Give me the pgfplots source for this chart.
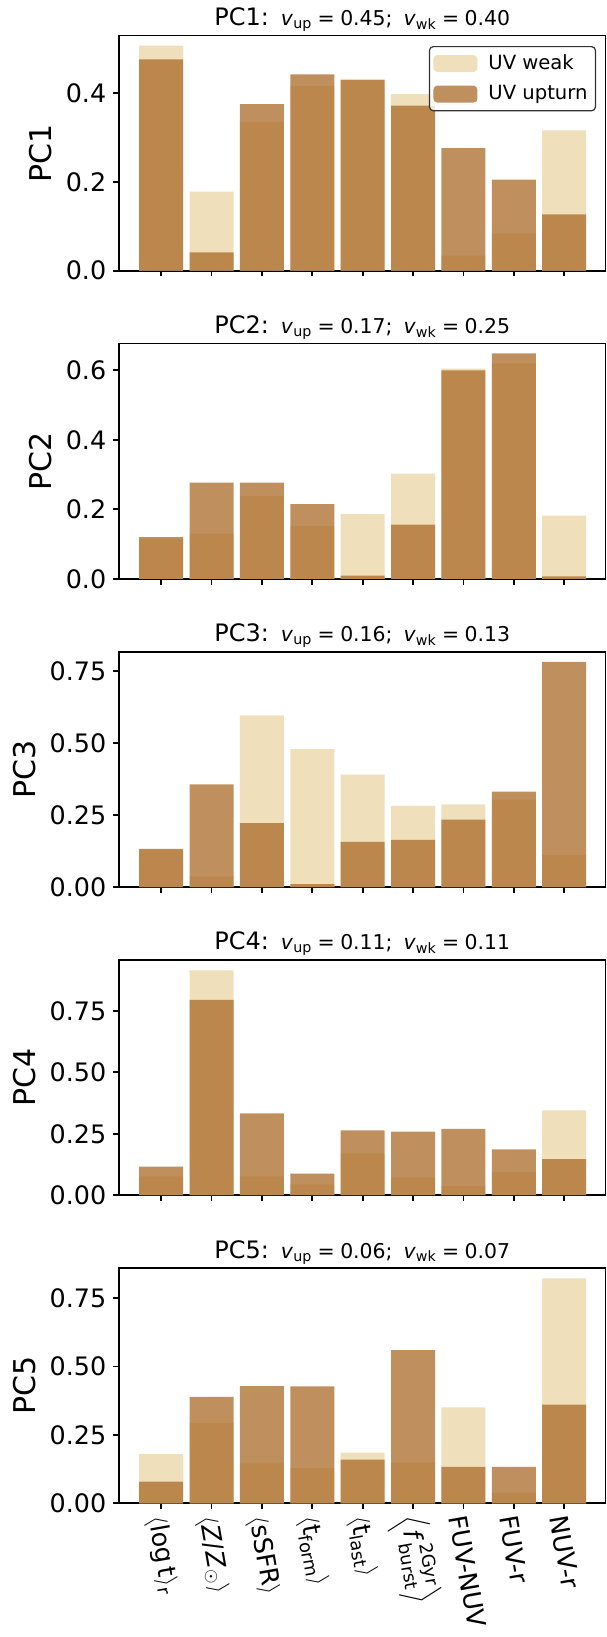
\documentclass[border=0pt]{standalone}
\usepackage{fontspec}
\setmainfont{DejaVu Sans}
\usepackage{amsmath}
\usepackage{pgfplots}
\usepackage{pgfplotstable}
\pgfplotsset{compat=1.18}
\definecolor{weakc}{HTML}{EFDFBB}
\definecolor{upc}{HTML}{AB6A28}

\pgfplotstableread{
x wk up
0 0.507 0.476
1 0.178 0.041
2 0.335 0.375
3 0.416 0.442
4 0.432 0.429
5 0.398 0.372
6 0.034 0.276
7 0.084 0.205
8 0.316 0.127
}\pcone
\pgfplotstableread{
x wk up
0 0.115 0.120
1 0.130 0.277
2 0.238 0.277
3 0.152 0.215
4 0.187 0.009
5 0.303 0.156
6 0.605 0.600
7 0.620 0.649
8 0.182 0.007
}\pctwo
\pgfplotstableread{
x wk up
0 0.130 0.132
1 0.037 0.356
2 0.596 0.222
3 0.479 0.010
4 0.390 0.157
5 0.282 0.164
6 0.287 0.234
7 0.303 0.331
8 0.112 0.782
}\pcthree
\pgfplotstableread{
x wk up
0 0.077 0.116
1 0.915 0.795
2 0.077 0.333
3 0.044 0.088
4 0.170 0.264
5 0.071 0.259
6 0.037 0.270
7 0.095 0.186
8 0.345 0.147
}\pcfour
\pgfplotstableread{
x wk up
0 0.180 0.079
1 0.294 0.389
2 0.146 0.428
3 0.129 0.427
4 0.185 0.160
5 0.150 0.560
6 0.351 0.133
7 0.038 0.133
8 0.822 0.361
}\pcfive

\newcommand\ttl[3]{{\fontsize{12}{14}\selectfont PC#1:}\hspace{6pt}{\fontsize{10.2}{12}\selectfont\textit{v}\textsubscript{up}\hspace{2.6pt}=\hspace{2.8pt}#2;\hspace{5.5pt}\textit{v}\textsubscript{wk}\hspace{2.6pt}=\hspace{2.8pt}#3}}

\pgfplotsset{pcax/.style={
  scale only axis, width=243.25pt, height=117.65pt,
  anchor=south west,
  xmin=-0.837, xmax=8.82, ymin=0,
  ybar=0pt, bar width=0.872,
  xtick={0,...,8}, xtick pos=bottom, ytick pos=left,
  tick align=outside, major tick length=2.85pt,
  axis line style={line width=0.9pt},
  every tick/.style={line width=0.9pt, black},
  tick label style={font=\fontsize{12.7}{15}\selectfont},
  ylabel style={font=\fontsize{15}{18}\selectfont},
  title style={anchor=base, at={(0.5,1)}, yshift=-1pt},
  wkstyle/.style={fill=weakc, fill opacity=1, draw=none, bar shift=0pt},
  upstyle/.style={fill=upc, fill opacity=0.75, draw=none, bar shift=0pt},
}}

\begin{document}
\begin{tikzpicture}
% PC1
\begin{axis}[pcax, at={(59.5pt,-135.35pt)}, ymax=0.53,
  ytick={0,0.2,0.4}, yticklabels={0.0,0.2,0.4}, xticklabels={},
  ylabel={PC1}, title={\ttl{1}{0.45}{0.40}},
  legend style={at={(1,1)}, anchor=north east, xshift=-4.7pt, yshift=-5.3pt,
    draw=black!80, line width=0.6pt, rounded corners=2pt, fill=white, fill opacity=0.8, text opacity=1,
    font=\fontsize{9.8}{11}\selectfont, row sep=2.5pt, inner xsep=2pt},
  legend cell align=left,
  legend image code/.code={\fill[#1] (0pt,-4.25pt) rectangle (22pt,4.25pt); \path (25.5pt,0pt);}]
\addplot[wkstyle] table[x=x,y=wk]{\pcone};
\addlegendentry{UV weak}
\addplot[upstyle] table[x=x,y=up]{\pcone};
\addlegendentry{UV upturn}
\end{axis}
% PC2
\begin{axis}[pcax, at={(59.5pt,-289.425pt)}, ymax=0.677,
  ytick={0,0.2,0.4,0.6}, yticklabels={0.0,0.2,0.4,0.6}, xticklabels={},
  ylabel={PC2}, title={\ttl{2}{0.17}{0.25}}]
\addplot[wkstyle] table[x=x,y=wk]{\pctwo};
\addplot[upstyle] table[x=x,y=up]{\pctwo};
\end{axis}
% PC3
\begin{axis}[pcax, at={(59.5pt,-443.5pt)}, ymax=0.817,
  ytick={0,0.25,0.5,0.75}, yticklabels={0.00,0.25,0.50,0.75}, xticklabels={},
  ylabel={PC3}, title={\ttl{3}{0.16}{0.13}}]
\addplot[wkstyle] table[x=x,y=wk]{\pcthree};
\addplot[upstyle] table[x=x,y=up]{\pcthree};
\end{axis}
% PC4
\begin{axis}[pcax, at={(59.5pt,-597.575pt)}, ymax=0.958,
  ytick={0,0.25,0.5,0.75}, yticklabels={0.00,0.25,0.50,0.75}, xticklabels={},
  ylabel={PC4}, title={\ttl{4}{0.11}{0.11}}]
\addplot[wkstyle] table[x=x,y=wk]{\pcfour};
\addplot[upstyle] table[x=x,y=up]{\pcfour};
\end{axis}
% PC5
\begin{axis}[pcax, at={(59.5pt,-751.65pt)}, ymax=0.860,
  ytick={0,0.25,0.5,0.75}, yticklabels={0.00,0.25,0.50,0.75},
  xticklabels={
    {$\langle$log\,t$\rangle$\textsubscript{r}},
    {$\langle$\textit{Z}/\textit{Z}$_\odot\rangle$},
    {$\langle$sSFR$\rangle$},
    {$\langle$t\textsubscript{form}$\rangle$},
    {$\langle$t\textsubscript{last}$\rangle$},
    {$\left\langle \text{\textit{f}}^{\,\text{2Gyr}}_{\text{burst}} \right\rangle$},
    {FUV-NUV},{FUV-r},{NUV-r}},
  xticklabel style={xshift=-3.5pt, rotate=-80, anchor=west},
  ylabel={PC5}, title={\ttl{5}{0.06}{0.07}}]
\addplot[wkstyle] table[x=x,y=wk]{\pcfive};
\addplot[upstyle] table[x=x,y=up]{\pcfive};
\end{axis}
\pgfresetboundingbox
\path[use as bounding box] (0,0) rectangle (303pt,-818.5pt);
\end{tikzpicture}
\end{document}
